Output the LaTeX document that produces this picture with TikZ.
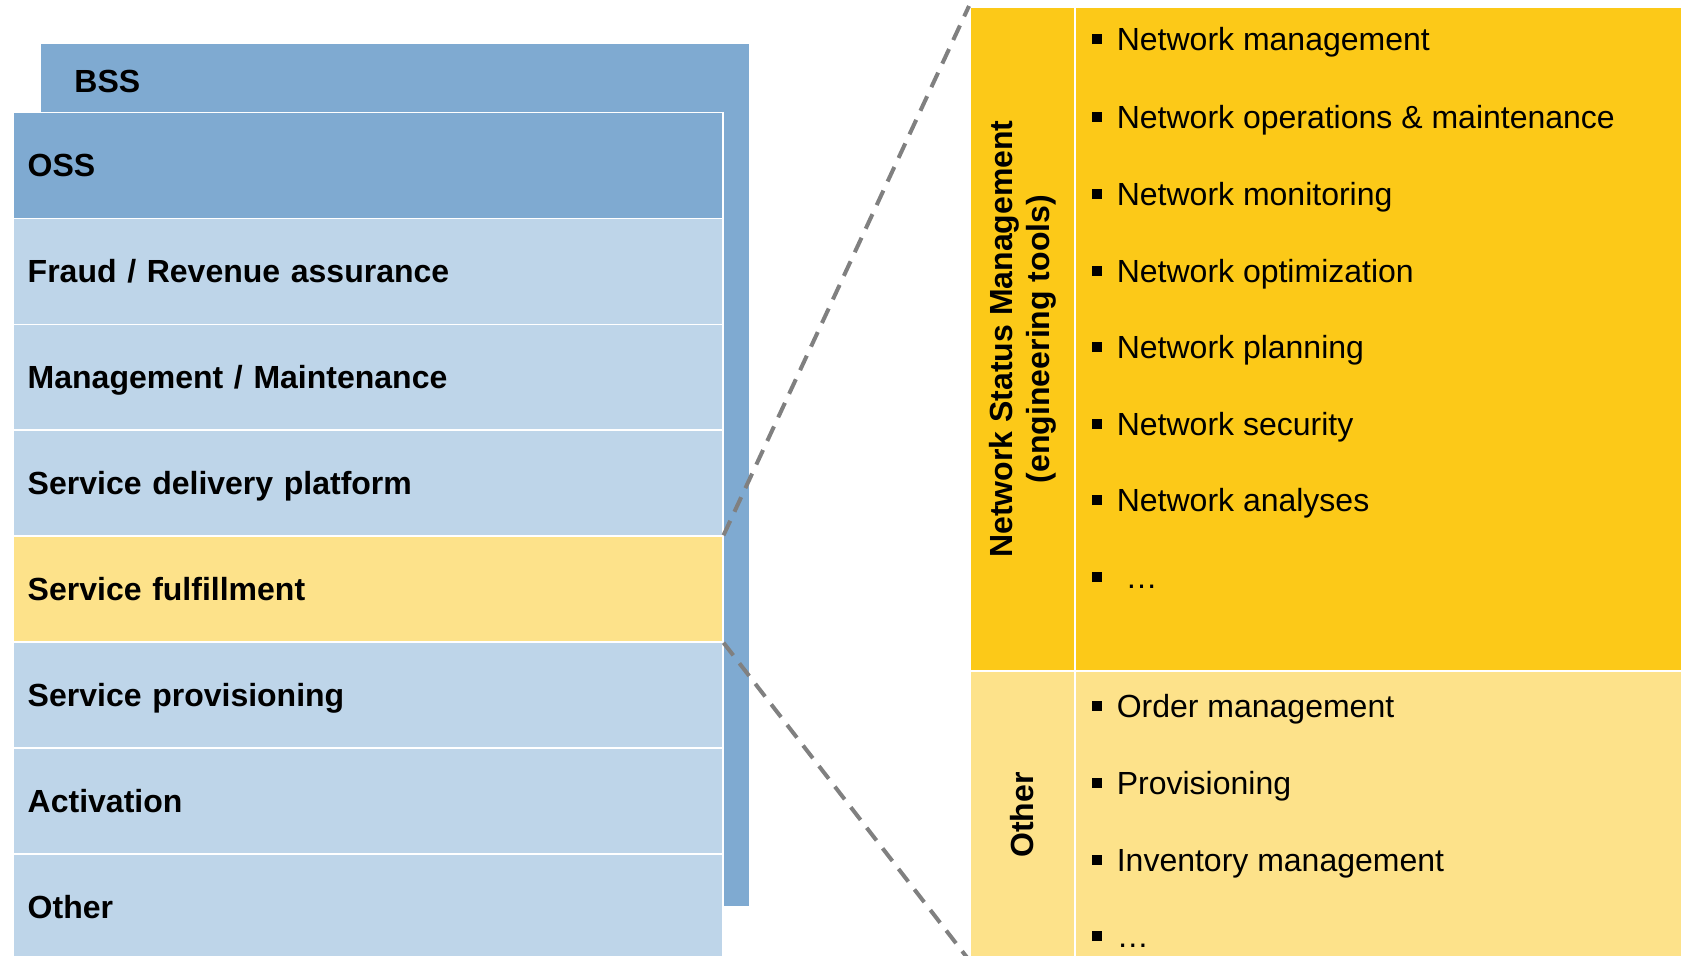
\documentclass[tikz,border=0pt]{standalone}
\usepackage{fontspec}
\setmainfont{Liberation Sans}

\definecolor{bssblue}{RGB}{127,170,209}
\definecolor{rowblue}{RGB}{190,213,233}
\definecolor{rowyellow}{RGB}{253,226,138}
\definecolor{nsmyellow}{RGB}{252,201,24}
\definecolor{dashgray}{RGB}{128,128,128}

\newcommand{\labelsize}{\fontsize{16}{18.5}\selectfont}
\newcommand{\bul}{\raisebox{3.2pt}{\rule{5pt}{5pt}}\hspace{7.2pt}}

\tikzset{
  layer/.style={rectangle, draw=white, line width=0.75pt, anchor=north west,
    inner xsep=7.5pt, inner ysep=0pt, text width=340pt, minimum height=52.95pt,
    align=left, font=\labelsize\bfseries, text height=11.5pt, text depth=0pt},
  cell/.style={rectangle, draw=white, line width=1pt, anchor=north west, inner sep=0pt},
  item/.style={anchor=west, inner sep=0pt, font=\labelsize, text height=11.5pt, text depth=0pt},
  cat/.style={rotate=90, align=center, font=\labelsize\bfseries},
  zoomline/.style={draw=dashgray, line width=2pt, dash pattern=on 8pt off 5pt}
}

\begin{document}
\begin{tikzpicture}[x=0.5pt, y=-0.5pt]
  \useasboundingbox (0,0) rectangle (1681,955);

  % BSS behind the OSS stack
  \node[cell, fill=bssblue, minimum width=355.15pt, minimum height=432pt] (bss) at (38.7,42) {};
  \node[item, font=\labelsize\bfseries] (bsstxt) at (74,80.8) {BSS};

  % OSS stack
  \node[layer, fill=bssblue] (oss) at (12,111.7) {OSS};
  \node[layer, fill=rowblue] (fraud) at (12,217.6) {Fraud / Revenue assurance};
  \node[layer, fill=rowblue] (mgmt) at (12,323.5) {Management / Maintenance};
  \node[layer, fill=rowblue] (sdp) at (12,429.4) {Service delivery platform};
  \node[layer, fill=rowyellow] (sf) at (12,535.3) {Service fulfillment};
  \node[layer, fill=rowblue] (sp) at (12,641.2) {Service provisioning};
  \node[layer, fill=rowblue] (act) at (12,747.1) {Activation};
  \node[layer, fill=rowblue] (other) at (12,853) {Other};

  % detail panel
  \node[cell, fill=nsmyellow, minimum width=52.5pt, minimum height=332pt] (nsm) at (969,6) {};
  \node[cell, fill=nsmyellow, minimum width=303.5pt, minimum height=332pt] (nsmlist) at (1074,6) {};
  \node[cell, fill=rowyellow, minimum width=52.5pt, minimum height=144pt] (othcat) at (969,670) {};
  \node[cell, fill=rowyellow, minimum width=303.5pt, minimum height=144pt] (othlist) at (1074,670) {};

  \node[cat] (nsmtxt) at (nsm.center) {Network Status Management\\(engineering tools)};
  \node[cat] (othtxt) at (othcat.center) {Other};

  \node[item] (n1) at (1092,39) {\bul Network management};
  \node[item] (n2) at (1092,116.5) {\bul Network operations \& maintenance};
  \node[item] (n3) at (1092,193.5) {\bul Network monitoring};
  \node[item] (n4) at (1092,270.5) {\bul Network optimization};
  \node[item] (n5) at (1092,347) {\bul Network planning};
  \node[item] (n6) at (1092,423.5) {\bul Network security};
  \node[item] (n7) at (1092,500) {\bul Network analyses};
  \node[item] (n8) at (1092,577) {\bul\ …};

  \node[item] (o1) at (1092,705.5) {\bul Order management};
  \node[item] (o2) at (1092,782.5) {\bul Provisioning};
  \node[item] (o3) at (1092,859.5) {\bul Inventory management};
  \node[item] (o4) at (1092,936) {\bul …};

  % zoom lines
  \draw[zoomline] (sf.north east) -- (nsm.north west);
  \draw[zoomline] (sf.south east) -- (othcat.south west);
\end{tikzpicture}
\end{document}
